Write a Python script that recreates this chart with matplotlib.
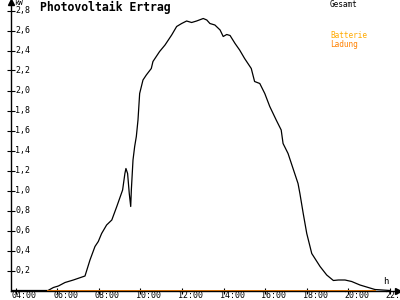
import matplotlib
matplotlib.use("Agg")
import matplotlib.pyplot as plt
from matplotlib.transforms import ScaledTranslation, blended_transform_factory

# total yield (kW) over the day, hours as decimal
hours = [3.77, 5.55, 5.81, 6.05, 6.37, 6.77, 7.33, 7.57, 7.81, 7.97,
         8.13, 8.37, 8.62, 8.86, 9.14, 9.25, 9.30, 9.38, 9.46, 9.53,
         9.56, 9.64, 9.72, 9.80, 9.88, 9.96, 10.12, 10.28, 10.52, 10.60,
         10.92, 11.18, 11.50, 11.74, 11.98, 12.22, 12.46, 12.70, 13.02, 13.19,
         13.34, 13.58, 13.83, 13.98, 14.15, 14.31, 14.55, 14.77, 15.01, 15.33,
         15.49, 15.74, 15.98, 16.22, 16.53, 16.77, 16.86, 17.10, 17.34, 17.58,
         17.67, 17.83, 18.00, 18.24, 18.64, 18.96, 19.28, 19.52, 19.84, 20.16,
         20.56, 20.96, 21.28, 22.00]
gesamt = [0, 0, 0.03, 0.045, 0.08, 0.105, 0.145, 0.305, 0.44, 0.49,
          0.57, 0.655, 0.705, 0.84, 1.005, 1.17, 1.22, 1.17, 0.97, 0.84,
          1.005, 1.305, 1.44, 1.54, 1.705, 1.97, 2.105, 2.155, 2.22, 2.29,
          2.39, 2.455, 2.555, 2.64, 2.67, 2.695, 2.68, 2.695, 2.72, 2.705,
          2.67, 2.655, 2.605, 2.54, 2.56, 2.55, 2.47, 2.405, 2.32, 2.22,
          2.09, 2.07, 1.97, 1.84, 1.705, 1.605, 1.47, 1.37, 1.22, 1.07,
          0.97, 0.77, 0.57, 0.37, 0.24, 0.155, 0.10, 0.105, 0.105, 0.09,
          0.055, 0.03, 0.01, 0]

# battery charging stays at zero
batt_hours = [5.55, 21.26]
batt_ladung = [0, 0]

x_ticks = [4, 6, 8, 10, 12, 14, 16, 18, 20, 22]
x_labels = ["04:00", "06:00", "08:00", "10:00", "12:00", "14:00",
            "16:00", "18:00", "20:00", "22:00"]
y_ticks = [0.2, 0.4, 0.6, 0.8, 1.0, 1.2, 1.4, 1.6, 1.8, 2.0, 2.2, 2.4, 2.6, 2.8]

MONO = "DejaVu Sans Mono"

fig = plt.figure(figsize=(4, 3), dpi=100)
ax = fig.add_axes([11 / 400, 9.5 / 300, 387 / 400, 288.5 / 300])

ax.plot(hours, gesamt, color="black", linewidth=0.9)
ax.plot(batt_hours, batt_ladung, color="#ff8000", linewidth=1.4)

ax.set_xlim(3.77, 22.39)
ax.set_ylim(0, 2.885)

for s in ["top", "right"]:
    ax.spines[s].set_visible(False)
ax.spines["left"].set_linewidth(1)
ax.spines["bottom"].set_linewidth(1)

# axis arrows
ax.plot(1, 0, marker=">", color="black", markersize=4, transform=ax.transAxes, clip_on=False)
ax.plot(0, 1, marker="^", color="black", markersize=4, transform=ax.transAxes, clip_on=False)

ax.set_xticks(x_ticks)
ax.set_xticklabels([])
ax.tick_params(axis="x", direction="inout", length=5, width=0.8)
xtrans = blended_transform_factory(ax.transData, fig.transFigure)
off = ScaledTranslation(-4 / 100, 0, fig.dpi_scale_trans)
for t, lab in zip(x_ticks, x_labels):
    ax.text(t, 0.5 / 300, lab, transform=xtrans + off, fontsize=6, family=MONO,
            ha="left", va="bottom", clip_on=False)

ax.set_yticks(y_ticks)
ax.set_yticklabels([])
ax.tick_params(axis="y", direction="inout", length=6, width=0.8)
ytrans = blended_transform_factory(ax.transAxes, ax.transData)
for v in y_ticks:
    ax.text(0.011, v, f"{v:.1f}".replace(".", ","), transform=ytrans,
            fontsize=6, family=MONO, ha="left", va="center")

fig.text(14 / 400, 1 - 0.3 / 300, "kW", fontsize=5.2, family=MONO,
         ha="left", va="top")
fig.text(386 / 400, 1 - 282 / 300, "h", fontsize=6.5, family=MONO,
         ha="center", va="center")

fig.text(40 / 400, 1 - 7.5 / 300, "Photovoltaik Ertrag", fontsize=8.3, family=MONO,
         fontweight="bold", ha="left", va="center")
fig.text(330 / 400, 1 - 4.5 / 300, "Gesamt", fontsize=5.6, family=MONO,
         ha="left", va="center")
fig.text(330 / 400, 1 - 36 / 300, "Batterie", fontsize=5.6, family=MONO,
         color="#ffaa00", ha="left", va="center")
fig.text(330 / 400, 1 - 44.5 / 300, "Ladung", fontsize=5.6, family=MONO,
         color="#ff8000", ha="left", va="center")

fig.savefig("out.png", dpi=100)
